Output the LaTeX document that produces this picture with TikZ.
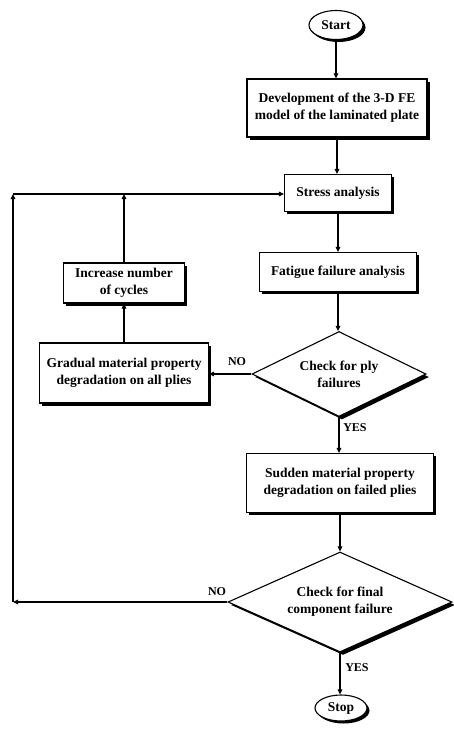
\documentclass[tikz,border=0pt]{standalone}
\usepackage{fontspec}
\setmainfont{Liberation Serif}
\usetikzlibrary{shapes.geometric,shadows,arrows.meta}
\begin{document}
\begin{tikzpicture}[x=1pt,y=-1pt,
  every node/.style={font=\bfseries\fontsize{13.5}{17}\selectfont, align=center, inner sep=0pt},
  shad/.style={drop shadow={shadow xshift=2.5pt, shadow yshift=-2.5pt, fill=black, opacity=1}},
  procbox/.style={draw, line width=1.1pt, fill=white, shad},
  term/.style={ellipse, draw, line width=1.1pt, fill=white, shad},
  decis/.style={diamond, draw, line width=1.1pt, fill=white, drop shadow={shadow xshift=3pt, shadow yshift=-3pt, fill=black, opacity=1}},
  arr/.style={line width=1.1pt, -{Triangle[length=5pt,width=4.5pt]}},
  lbl/.style={font=\bfseries\fontsize{12}{14}\selectfont}
]
\useasboundingbox (0,0) rectangle (453,729);
\node[term, minimum width=54pt, minimum height=29pt] (start) at (336,25) {Start};
\node[procbox, minimum width=180pt, minimum height=58pt] (dev) at (337,108) {Development of the 3-D FE\\model of the laminated plate};
\node[procbox, minimum width=107pt, minimum height=37pt] (stress) at (338,193) {Stress analysis};
\node[procbox, minimum width=157pt, minimum height=39pt] (fat) at (338,272) {Fatigue failure analysis};
\node[decis, aspect=2.05, minimum width=174pt, minimum height=85pt] (d1) at (339,374) {Check for ply\\failures};
\node[procbox, minimum width=169pt, minimum height=60pt] (grad) at (124,373) {Gradual material property\\degradation on all plies};
\node[procbox, minimum width=121pt, minimum height=40pt] (inc) at (124,283) {Increase number\\of cycles};
\node[procbox, minimum width=187pt, minimum height=59pt] (sud) at (340,483) {Sudden material property\\degradation on failed plies};
\node[decis, aspect=2.24, minimum width=224pt, minimum height=100pt] (d2) at (340,602) {Check for final\\component failure};
\node[term, minimum width=52pt, minimum height=26pt] (stop) at (341,708) {Stop};
\coordinate (cl) at (13,602);
\coordinate (ct) at (13,194);

\draw[arr] (start) -- (dev.north -| start);
\draw[arr] (dev) -- (stress.north -| dev);
\draw[arr] (stress) -- (fat.north -| stress);
\draw[arr] (fat) -- (d1.north -| fat);
\draw[arr] (d1) -- (sud.north -| d1);
\draw[arr] (sud) -- (d2.north -| sud);
\draw[arr] (d2) -- (stop.north -| d2);
\draw[arr] (d1.west) -- (grad.east |- d1.west);
\draw[arr] (grad) -- (inc.south -| grad);
\draw[arr] (inc) -- (inc.north |- ct);
\draw[arr] (d2.west) -- (cl);
\draw[arr] (cl) -- (ct);
\draw[arr] (ct) -- (stress.west |- ct);

\node[lbl] (no1) at (237,362) {NO};
\node[lbl] (yes1) at (355,428) {YES};
\node[lbl] (no2) at (217,592) {NO};
\node[lbl] (yes2) at (357,668) {YES};
\end{tikzpicture}
\end{document}
